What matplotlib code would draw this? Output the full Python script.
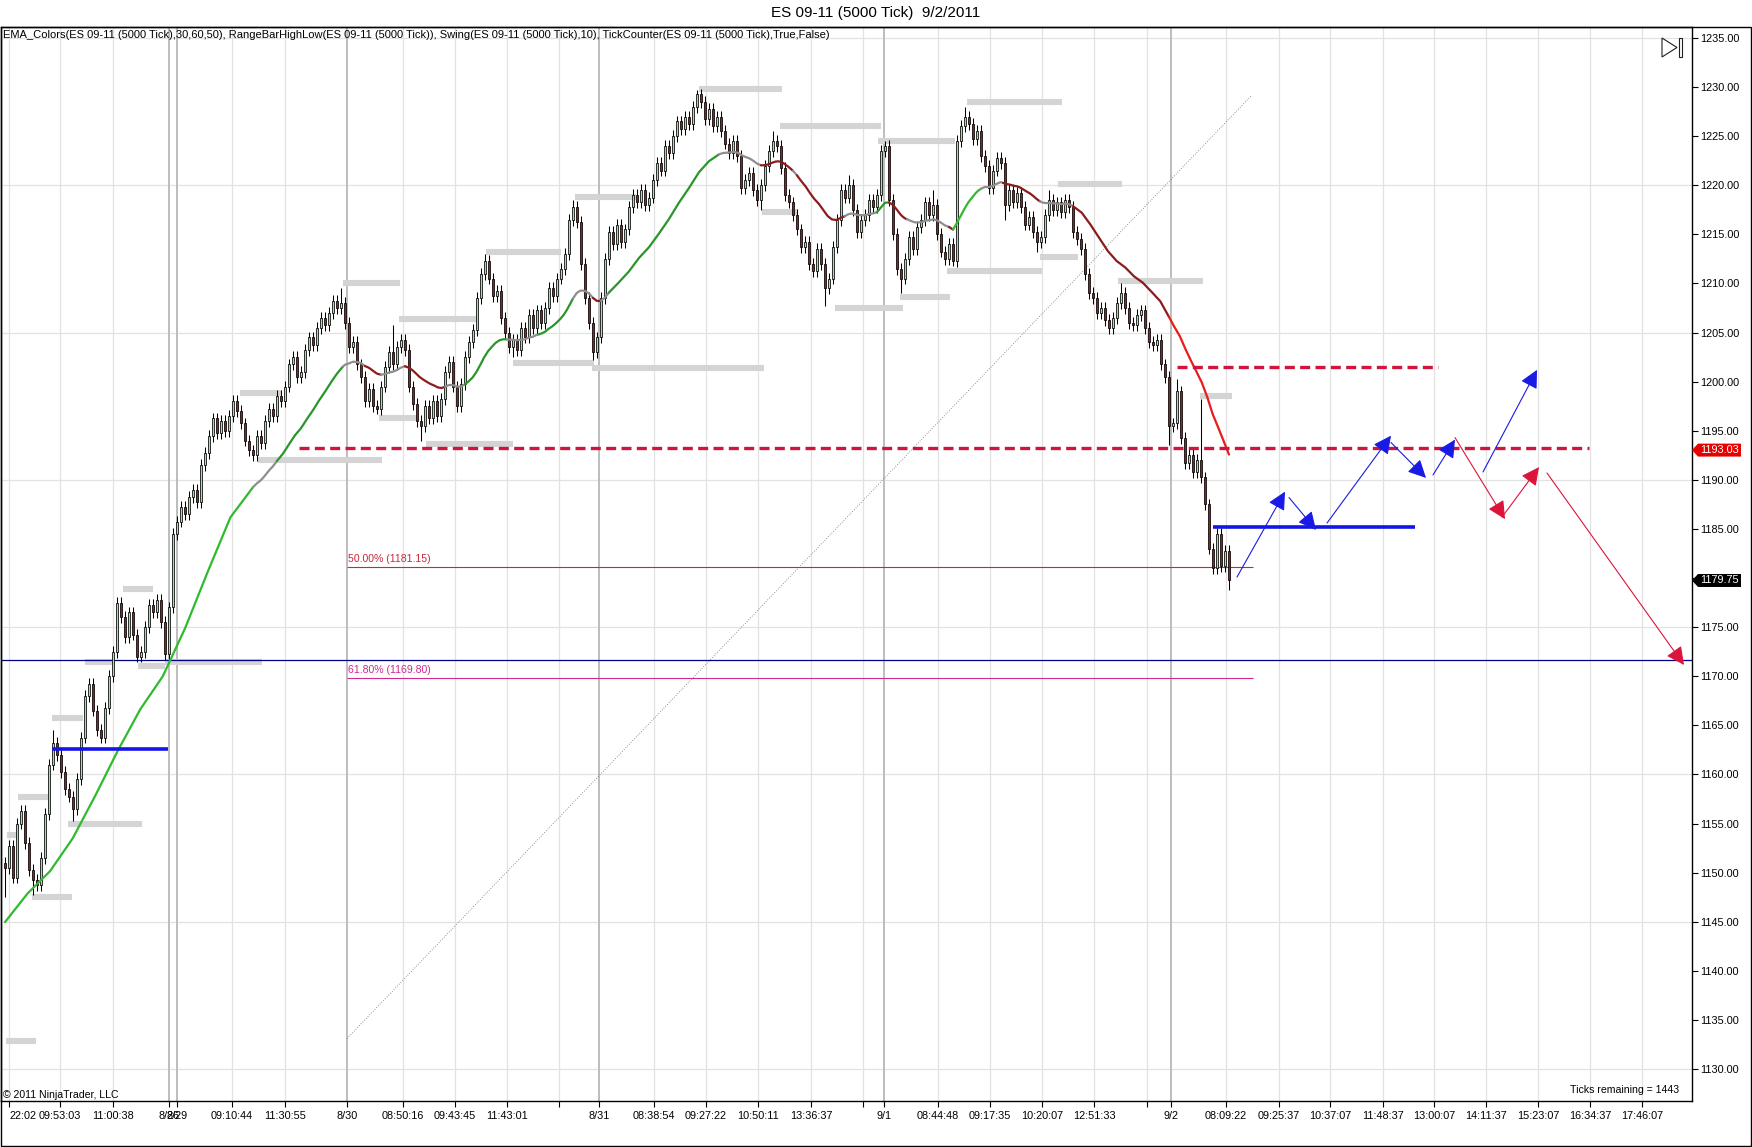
import matplotlib
matplotlib.use('Agg')
import matplotlib.pyplot as plt
from matplotlib.patches import Polygon, Rectangle
from matplotlib.transforms import blended_transform_factory
import numpy as np

plt.rcParams['font.family'] = ['Liberation Sans', 'DejaVu Sans']

# ---------------- data ----------------
title = "ES 09-11 (5000 Tick)  9/2/2011"
indicator_text = ("EMA_Colors(ES 09-11 (5000 Tick),30,60,50), RangeBarHighLow(ES 09-11 (5000 Tick)), "
                  "Swing(ES 09-11 (5000 Tick),10), TickCounter(ES 09-11 (5000 Tick),True,False)")
first_open = 1151.0
closes = [
    1150.5, 1152.75, 1149.5, 1155.0, 1156.25, 1153.0, 1150.25, 1149.25, 1148.75, 1151.5,
    1156.0, 1161.0, 1163.25, 1162.0, 1160.25, 1158.5, 1157.75, 1156.5, 1159.5, 1163.75,
    1168.0, 1169.25, 1166.5, 1164.5, 1163.75, 1166.75, 1170.0, 1172.5, 1177.5, 1176.0,
    1174.0, 1176.5, 1174.25, 1172.0, 1172.5, 1175.0, 1177.25, 1176.5, 1177.75, 1175.5,
    1172.25, 1177.0, 1184.5, 1185.75, 1187.25, 1186.5, 1188.25, 1189.0, 1187.75, 1191.5,
    1192.75, 1194.5, 1196.25, 1194.75, 1196.0, 1195.0, 1196.5, 1198.0, 1197.0, 1195.75,
    1194.0, 1193.0, 1192.5, 1194.5, 1193.75, 1196.0, 1197.25, 1196.5, 1198.5, 1198.0,
    1199.5, 1201.75, 1202.5, 1200.5, 1201.0, 1203.25, 1204.5, 1203.75, 1205.5, 1206.5,
    1205.75, 1207.0, 1208.25, 1207.5, 1208.0, 1206.0, 1203.5, 1204.0, 1201.75, 1200.5,
    1198.0, 1199.25, 1197.5, 1197.25, 1199.5, 1201.5, 1203.0, 1201.75, 1203.5, 1204.25,
    1203.25, 1199.5, 1197.75, 1196.0, 1195.5, 1197.5, 1196.25, 1198.0, 1196.5, 1198.25,
    1201.0, 1202.0, 1199.5, 1197.5, 1199.75, 1202.5, 1204.0, 1205.25, 1208.5, 1211.0,
    1212.25, 1210.5, 1208.75, 1209.25, 1206.5, 1205.0, 1203.5, 1204.25, 1203.25, 1205.5,
    1204.5, 1206.75, 1205.5, 1207.25, 1206.0, 1207.5, 1209.5, 1208.75, 1210.5, 1211.5,
    1213.0, 1216.5, 1217.75, 1216.25, 1212.0, 1208.5, 1206.0, 1203.0, 1204.5, 1208.5,
    1212.5, 1215.25, 1214.0, 1216.0, 1214.25, 1215.5, 1217.75, 1219.0, 1218.25, 1219.5,
    1218.0, 1218.75, 1220.5, 1222.25, 1221.5, 1224.0, 1223.25, 1225.0, 1226.5, 1225.75,
    1227.0, 1226.25, 1228.0, 1229.25, 1228.5, 1226.75, 1227.75, 1226.0, 1227.0, 1225.5,
    1224.25, 1223.25, 1224.5, 1223.0, 1219.75, 1220.5, 1221.25, 1219.5, 1218.5, 1220.0,
    1222.0, 1223.5, 1224.5, 1224.0, 1221.75, 1219.0, 1218.25, 1217.0, 1215.5, 1213.75,
    1214.25, 1212.0, 1211.25, 1213.5, 1212.0, 1209.5, 1210.5, 1213.75, 1216.5, 1219.5,
    1218.75, 1220.0, 1217.5, 1215.25, 1216.5, 1217.0, 1218.5, 1217.75, 1219.0, 1223.5,
    1224.0, 1218.5, 1215.0, 1211.5, 1210.5, 1212.5, 1214.75, 1213.5, 1215.75, 1216.5,
    1218.25, 1217.0, 1218.0, 1215.0, 1213.25, 1212.5, 1214.0, 1212.25, 1224.5, 1226.0,
    1227.0, 1226.25, 1224.75, 1225.5, 1223.0, 1222.0, 1219.75, 1221.5, 1222.75, 1222.25,
    1218.0, 1219.5, 1218.25, 1219.25, 1217.75, 1216.0, 1216.75, 1215.25, 1214.25, 1214.75,
    1217.0, 1218.5, 1217.5, 1218.25, 1217.25, 1218.5, 1217.75, 1215.25, 1214.5, 1213.5,
    1211.0, 1209.0, 1208.5, 1207.0, 1207.5, 1206.25, 1205.5, 1206.5, 1208.0, 1209.0,
    1207.5, 1206.0, 1205.75, 1206.75, 1207.25, 1205.5, 1204.0, 1203.75, 1204.25, 1201.75,
    1200.5, 1195.5, 1195.75, 1199.0, 1194.25, 1191.75, 1192.5, 1190.75, 1192.0, 1190.25,
    1187.5, 1183.0, 1181.0, 1184.5, 1181.25, 1182.75, 1179.75,
]
wick_highs = {12: 1164.5, 84: 1209.5, 97: 1205.75, 120: 1213.0, 142: 1218.5, 173: 1229.75,
              192: 1225.5, 211: 1221.0, 220: 1224.5, 232: 1219.5, 240: 1228.0, 261: 1219.5,
              279: 1210.0, 293: 1200.25, 299: 1198.25}
wick_lows = {0: 1147.5, 7: 1147.75, 17: 1155.25, 93: 1196.75, 104: 1194.0, 127: 1202.5,
             147: 1202.25, 189: 1217.5, 205: 1207.75, 224: 1209.0, 237: 1211.75, 250: 1216.5,
             258: 1213.25, 291: 1193.5, 306: 1178.75}

ema_seed = 1144.5
ema_span = 25
ema_last = 1193.03
# EMA colour runs (bar from, bar to, colour key)
ema_runs = [(0, 62, 'bgreen'), (62, 68, 'gray'), (68, 84.5, 'green'), (84.5, 90, 'gray'),
            (90, 94, 'dred'), (94, 100, 'gray'), (100, 110, 'dred'), (110, 115, 'gray'),
            (115, 125.5, 'green'), (125.5, 133.5, 'gray'), (133.5, 142, 'green'), (142, 147, 'gray'),
            (147, 149, 'dred'), (149, 151, 'gray'), (151, 178.5, 'green'), (178.5, 189, 'gray'),
            (189, 197, 'dred'), (197, 198, 'gray'), (198, 210, 'dred'), (210, 218, 'gray'),
            (218, 221, 'green'), (221, 225.5, 'dred'), (225.5, 236, 'gray'), (236, 237, 'dred'),
            (237, 244, 'bgreen'), (244, 249.5, 'gray'), (249.5, 258.75, 'dred'), (258.75, 267, 'gray'),
            (267, 291, 'dred'), (291, 306, 'bred')]

# swing / range bar high-low markers: (bar from, bar to, price)
swing_bars = [(0.25, 7.75, 1132.8), (0.5, 3, 1153.8), (3.25, 10.75, 1157.7), (6.75, 16.75, 1147.5),
              (11.75, 19.5, 1165.75), (15.75, 34.25, 1155.0), (20, 27.5, 1171.4), (29.5, 37, 1178.9),
              (33.25, 40, 1171.0), (40, 64.25, 1171.4), (58.75, 69.25, 1198.85), (63.25, 94.25, 1192.0),
              (84.5, 98.75, 1210.0), (93.5, 103.25, 1196.3), (98.5, 118.25, 1206.35), (105.25, 127, 1193.65),
              (120.25, 139, 1213.2), (127, 147.25, 1201.9), (142.5, 157.75, 1218.8), (146.75, 189.75, 1201.4),
              (173.5, 194.25, 1229.8), (189.25, 198.25, 1217.3), (193.75, 219, 1226.0), (207.5, 224.5, 1207.5),
              (218.25, 237.5, 1224.5), (223.75, 236.25, 1208.6), (235.5, 259.25, 1211.3), (240.5, 264.25, 1228.5),
              (258.75, 268.25, 1212.7), (263.25, 279.25, 1220.1), (278.25, 299.5, 1210.3), (298.75, 306.75, 1198.5)]

# x axis ticks (bar positions) and labels
tick_pos = [1, 13.75, 27, 41, 43, 56.75, 70, 85.5, 99.5, 112.5, 125.5, 138.5, 148.5, 162.25, 175.25,
            188.25, 201.5, 214.5, 219.75, 233.25, 246.25, 259.25, 272.25, 285.5, 291.5, 305.25, 318.5,
            331.25, 344.5, 357.25, 370.25, 383.25, 396.25, 409.25]
tick_labels = ["22:02", "09:53:03", "11:00:38", "8/26", "8/29", "09:10:44", "11:30:55", "8/30",
               "08:50:16", "09:43:45", "11:43:01", "", "8/31", "08:38:54", "09:27:22", "10:50:11",
               "13:36:37", "", "9/1", "08:44:48", "09:17:35", "10:20:07", "12:51:33", "", "9/2",
               "08:09:22", "09:25:37", "10:37:07", "11:48:37", "13:00:07", "14:11:37", "15:23:07",
               "16:34:37", "17:46:07"]
date_lines = [41, 43, 85.5, 148.5, 219.75, 291.5]

# drawn objects
navy_level = 1171.65
blue_levels = [(11.75, 40.75, 1162.6), (302, 352.5, 1185.2)]
red_dashed = [(73.5, 396, 1193.25), (293, 358.25, 1201.5)]
fib_x = (85.5, 312)
fib_anchor = ((85.5, 1133.1), (311.75, 1229.2))
fib_levels = [("50.00%", 1181.15, '#c8283c'), ("61.80%", 1169.80, '#d0288c')]
blue_arrows = [((308, 1180.1), (320, 1188.8)), ((321, 1188.2), (327.75, 1184.9)),
               ((330.5, 1185.6), (346.5, 1194.5)), ((346.5, 1193.8), (355.25, 1190.2)),
               ((357, 1190.5), (362.5, 1194.1)), ((369.5, 1190.8), (383, 1201.2))]
red_arrows = [((362.5, 1194.3), (375, 1186.0)), ((374.25, 1186.2), (383.5, 1191.3)),
              ((385.5, 1190.7), (419.75, 1171.15))]
ticks_remaining = 1443

# ---------------- figure ----------------
W, H = 1752, 1147
fig = plt.figure(figsize=(W / 100, H / 100), dpi=100)
fig.patch.set_facecolor('white')

def fx(px):
    return px / W

def fy(py):
    return 1 - py / H

ax = fig.add_axes([fx(1), fy(1101), fx(1692) - fx(1), fy(27) - fy(1101)])
ax.set_xlim(-1, 421.75)
ax.set_ylim(1126.74, 1236.12)
for s in ax.spines.values():
    s.set_color('black')
    s.set_linewidth(1.0)

yt = np.arange(1130, 1236, 5)
ax.yaxis.tick_right()
ax.set_yticks(yt)
ax.set_yticklabels([f"{v:.2f}" for v in yt])
ax.set_xticks(tick_pos)
ax.set_xticklabels(tick_labels)
ax.tick_params(axis='both', direction='out', length=4, width=0.8, labelsize=7.8, colors='black', pad=2)
ax.tick_params(axis='x', pad=3)
lbl0 = ax.get_xticklabels()[0]
lbl0.set_horizontalalignment('left')

# grid
for v in np.arange(1130, 1236, 15):
    ax.axhline(v, color='#e2e2e2', lw=0.9, zorder=0)
for p, l in zip(tick_pos, tick_labels):
    if p not in date_lines:
        ax.axvline(p, color='#e2e2e2', lw=0.9, zorder=0)
for p in date_lines:
    ax.axvline(p, color='#bdbdbd', lw=1.4, zorder=0.5)

# swing bars
for a, b, v in swing_bars:
    ax.hlines(v, a, b, color='#d4d4d4', lw=4.4, zorder=1)

# fib
ax.plot([fib_anchor[0][0], fib_anchor[1][0]], [fib_anchor[0][1], fib_anchor[1][1]],
        color='#707070', lw=0.6, ls=(0, (1, 2)), zorder=1.5)
for name, v, col in fib_levels:
    ax.hlines(v, fib_x[0], fib_x[1], color=col, lw=0.8, zorder=1.5)
    ax.annotate(f"{name} ({v:.2f})", xy=(fib_x[0], v), xytext=(1, 2), textcoords='offset points',
                color=col, fontsize=7.6, ha='left', va='bottom')

ax.axhline(navy_level, color='#000080', lw=0.9, zorder=1.6)

# candles
c = np.array(closes)
o = np.array([first_open] + closes[:-1])
idx = np.arange(len(c))
hi = np.maximum(o, c) + 0.6
lo = np.minimum(o, c) - 0.6
for k, v in wick_highs.items():
    hi[k] = v
for k, v in wick_lows.items():
    lo[k] = v
ax.vlines(idx, lo, hi, color='black', lw=0.75, zorder=3)
up = c >= o
body = np.maximum(np.abs(c - o), 0.12)
ax.bar(idx[up], body[up], bottom=o[up], width=0.7, color='#a8dca8', edgecolor='black', linewidth=0.55, zorder=4)
ax.bar(idx[~up], body[~up], bottom=c[~up], width=0.7, color='#a81a1a', edgecolor='black', linewidth=0.55, zorder=4)

# EMA
alpha = 2.0 / (ema_span + 1)
ema = []
e = ema_seed
for v in closes:
    e = e + alpha * (v - e)
    ema.append(e)
ema = np.array(ema)
cols = {'bgreen': '#2fba2f', 'green': '#2a962a', 'gray': '#8e8e8e', 'dred': '#8c1c1c', 'bred': '#e81c1c'}
xe = np.arange(len(ema))
for a, b, k in ema_runs:
    xs = np.linspace(a, b, 12)
    ys = np.interp(xs, xe, ema)
    ax.plot(xs, ys, color=cols[k], lw=1.6, zorder=5, solid_capstyle='round')

# drawn lines
for a, b, v in blue_levels:
    ax.hlines(v, a, b, color='#1414e6', lw=2.6, zorder=6)
for a, b, v in red_dashed:
    ax.hlines(v, a, b, color='#d2143c', lw=2.4, linestyles=(0, (3, 1.6)), zorder=6)

for (p0, p1) in blue_arrows:
    ax.annotate('', xy=p1, xytext=p0, zorder=7,
                arrowprops=dict(arrowstyle='-|>,head_length=1.1,head_width=0.55', color='#1a1ae6',
                                lw=0.8, shrinkA=0, shrinkB=0))
for (p0, p1) in red_arrows:
    ax.annotate('', xy=p1, xytext=p0, zorder=7,
                arrowprops=dict(arrowstyle='-|>,head_length=1.1,head_width=0.55', color='#dc143c',
                                lw=0.8, shrinkA=0, shrinkB=0))

# price boxes at right axis
bt = blended_transform_factory(fig.transFigure, ax.transData)
def price_box(val, fc):
    h = 0.66
    poly = Polygon([(fx(1692), val), (fx(1698), val + h), (fx(1741), val + h), (fx(1741), val - h),
                    (fx(1698), val - h)], closed=True, transform=bt, facecolor=fc, edgecolor='none',
                   clip_on=False, zorder=20)
    ax.add_patch(poly)
    ax.text(fx(1719.5), val, f"{val:.2f}", transform=bt, color='white', fontsize=7.8, ha='center',
            va='center', clip_on=False, zorder=21)

price_box(ema_last, '#e60000')
price_box(closes[-1], '#000000')

# outer frame
fig.add_artist(Rectangle((fx(0.5), fy(1146)), fx(1751) - fx(0.5), fy(27) - fy(1146), transform=fig.transFigure,
                         fill=False, edgecolor='black', lw=1.0))

# texts
fig.text(0.5, fy(13), title, ha='center', va='center', fontsize=11)
fig.text(fx(3), fy(35), indicator_text, ha='left', va='center', fontsize=8.0)
fig.text(fx(3), fy(1095), "\u00a9 2011 NinjaTrader, LLC", ha='left', va='center', fontsize=7.6)
fig.text(fx(1679), fy(1090), f"Ticks remaining = {ticks_remaining}", ha='right', va='center', fontsize=7.6)

# scroll icon
fig.add_artist(Polygon([(fx(1662), fy(38)), (fx(1677), fy(47.5)), (fx(1662), fy(57))], closed=True,
                       transform=fig.transFigure, fill=False, edgecolor='#202020', lw=0.8))
fig.add_artist(Rectangle((fx(1678.5), fy(57)), fx(3.5), fy(38) - fy(57), transform=fig.transFigure,
                         fill=False, edgecolor='#202020', lw=0.8))

fig.savefig('out.png', dpi=100, facecolor='white')
